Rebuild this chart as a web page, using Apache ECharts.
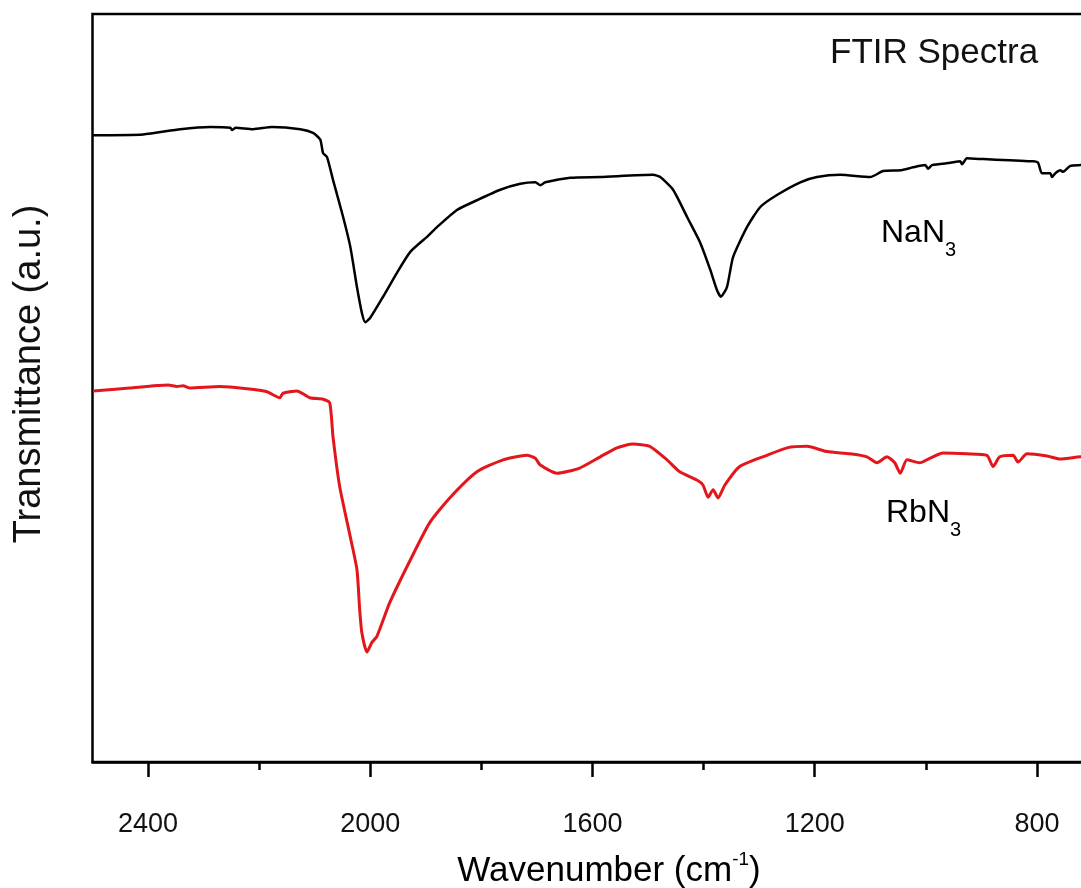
<!DOCTYPE html>
<html>
<head>
<meta charset="utf-8">
<script src="https://cdn.jsdelivr.net/npm/echarts@6/dist/echarts.min.js"></script>
<style>
html,body{margin:0;padding:0;background:#fff;overflow:hidden;}
#chart{width:1081px;height:888px;}
</style>
</head>
<body>
<div id="chart"></div>
<script>
// Wavenumber (cm^-1) and transmittance (a.u., 0-100 scale)
const nanWavenumber = [2499,2409,2342,2288,2252,2249,2242,2211,2177,2126,2103,2090,2085,2078,2067,2049,2036,2024,2015,2009,2000,1977,1952,1928,1898,1880,1844,1808,1766,1730,1703,1694,1685,1640,1586,1491,1478,1455,1430,1406,1388,1376,1369,1358,1347,1322,1298,1268,1226,1196,1154,1100,1077,1046,1023,1001,996,989,956,938,935,926,897,807,798,791,776,773,767,758,753,740,721,701];
const nanTransmittance = [83.8,83.9,84.6,84.9,84.8,84.5,84.8,84.6,84.9,84.6,84.1,83.2,81.4,80.9,77.8,72.9,68.9,63.5,60.0,58.8,59.4,62.2,65.4,68.2,70.2,71.5,73.8,75.1,76.5,77.3,77.5,77.1,77.5,78.1,78.2,78.5,78.2,76.5,72.9,69.4,65.8,63.1,62.2,63.5,67.5,71.5,74.2,75.8,77.5,78.2,78.5,78.2,79.0,79.1,79.5,79.8,79.3,79.8,80.1,80.3,79.9,80.7,80.6,80.3,80.1,78.7,78.7,78.2,78.7,79.1,78.9,79.7,79.8,79.9];
const rbWavenumber = [2499,2433,2364,2348,2337,2325,2271,2222,2186,2163,2157,2132,2109,2085,2073,2067,2055,2036,2024,2019,2015,2006,1997,1988,1965,1928,1893,1857,1808,1761,1718,1703,1694,1664,1623,1586,1556,1527,1497,1466,1443,1412,1401,1392,1383,1374,1362,1335,1286,1250,1214,1178,1137,1106,1088,1070,1056,1046,1034,1011,993,969,926,890,879,867,843,834,818,782,758,721,701];
const rbTransmittance = [49.6,50.0,50.4,50.2,50.3,50.0,50.2,49.9,49.5,48.7,49.3,49.6,48.7,48.5,48.0,43.4,36.8,30.1,25.7,20.3,17.2,14.7,16.0,16.8,21.3,27.0,32.0,35.3,38.8,40.4,41.0,40.6,39.7,38.6,39.3,40.8,42.0,42.5,42.2,40.4,38.8,37.7,37.0,35.4,36.4,35.3,37.0,39.5,41.0,42.0,42.2,41.5,41.2,40.8,40.0,40.8,40.0,38.6,40.4,40.0,40.6,41.3,41.2,41.0,39.5,40.8,41.0,40.1,41.2,40.9,40.5,40.8,40.8];
const xTickValues = [800,1200,1600,2000,2400];
const seriesNames = ['NaN3','RbN3'];

const FONT = "'Liberation Sans', Arial, sans-serif";
const zip = (a, b) => a.map((v, i) => [v, b[i]]);

const chart = echarts.init(document.getElementById('chart'), null, {renderer: 'canvas'});
chart.setOption({
  animation: false,
  backgroundColor: '#ffffff',
  grid: {
    left: 92.5, top: 14, width: 1166.7, height: 748,
    outerBoundsMode: 'none', containLabel: false,
    show: true, borderColor: '#000', borderWidth: 2.5, backgroundColor: 'transparent'
  },
  xAxis: {
    type: 'value', inverse: true, min: 400, max: 2500, interval: 400,
    axisLine: {show: true, lineStyle: {color: '#000', width: 2.5}},
    axisTick: {show: true, inside: false, length: 15, lineStyle: {color: '#000', width: 2.5}, customValues: xTickValues},
    minorTick: {show: true, splitNumber: 2, length: 8, lineStyle: {color: '#000', width: 2.5}},
    axisLabel: {show: true, margin: 49, fontSize: 27, color: '#111', fontFamily: FONT,
      customValues: xTickValues, formatter: v => String(v)},
    splitLine: {show: false}
  },
  yAxis: {
    type: 'value', min: 0, max: 100,
    axisLine: {show: false}, axisTick: {show: false}, axisLabel: {show: false}, splitLine: {show: false}
  },
  series: [
    {name: seriesNames[0], type: 'line', data: zip(nanWavenumber, nanTransmittance), showSymbol: false,
     smooth: 0.2, lineStyle: {color: '#000', width: 2.5}, itemStyle: {color: '#000'}, z: 3},
    {name: seriesNames[1], type: 'line', data: zip(rbWavenumber, rbTransmittance), showSymbol: false,
     smooth: 0.2, lineStyle: {color: '#e3161b', width: 3}, itemStyle: {color: '#e3161b'}, z: 3}
  ],
  graphic: [
    {type: 'text', style: {text: 'FTIR Spectra', x: 830, y: 53, align: 'left', verticalAlign: 'middle',
      font: "35px " + FONT, fill: '#111'}},
    {type: 'text', style: {text: '{a|NaN}{s|3}', x: 881, y: 233, align: 'left', verticalAlign: 'middle',
      rich: {a: {fontSize: 32, fontFamily: FONT, color: '#111', lineHeight: 32},
             s: {fontSize: 20, fontFamily: FONT, color: '#111', lineHeight: 20, padding: [34, 0, 0, 0]}}}},
    {type: 'text', style: {text: '{a|RbN}{s|3}', x: 886, y: 513, align: 'left', verticalAlign: 'middle',
      rich: {a: {fontSize: 32, fontFamily: FONT, color: '#e3161b', lineHeight: 32},
             s: {fontSize: 20, fontFamily: FONT, color: '#e3161b', lineHeight: 20, padding: [34, 0, 0, 0]}}}},
    {type: 'text', style: {text: '{a|Wavenumber (cm}{s|-1}{a|)}', x: 609, y: 871, align: 'center', verticalAlign: 'middle',
      rich: {a: {fontSize: 35, fontFamily: FONT, color: '#111', lineHeight: 35},
             s: {fontSize: 19, fontFamily: FONT, color: '#111', lineHeight: 19, padding: [0, 0, 22, 0]}}}},
    {type: 'text', rotation: Math.PI / 2, x: 30, y: 374, style: {text: 'Transmittance (a.u.)', x: 0, y: 0,
      align: 'center', verticalAlign: 'middle', font: "38px " + FONT, fill: '#111'}}
  ]
});
</script>
</body>
</html>
